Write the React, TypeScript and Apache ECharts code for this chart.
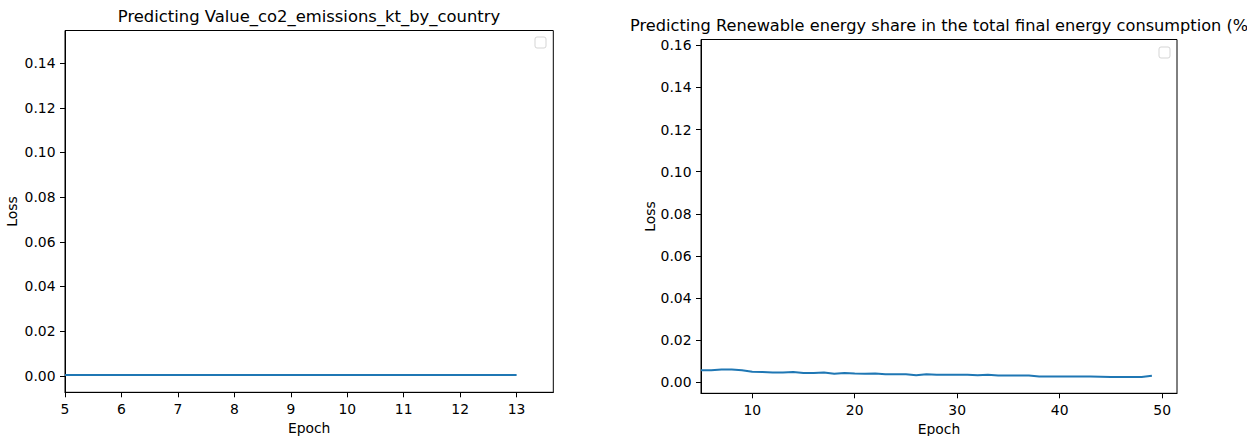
import React, { useEffect, useRef } from "react";
import * as echarts from "echarts";

const leftTitle = "Predicting Value_co2_emissions_kt_by_country";
const rightTitle = "Predicting Renewable energy share in the total final energy consumption (%)";

const leftEpochs = [5, 6, 7, 8, 9, 10, 11, 12, 13];
const leftLoss = [0.0003, 0.0003, 0.0003, 0.0003, 0.0003, 0.0003, 0.0003, 0.0003, 0.0003];

const rightEpochs = [
  5, 6, 7, 8, 9, 10, 11, 12, 13, 14, 15, 16, 17, 18, 19, 20, 21, 22, 23, 24, 25, 26, 27,
  28, 29, 30, 31, 32, 33, 34, 35, 36, 37, 38, 39, 40, 41, 42, 43, 44, 45, 46, 47, 48, 49,
];
const rightLoss = [
  0.0057, 0.0056, 0.006, 0.006, 0.0056, 0.0049, 0.0048, 0.0046, 0.0046, 0.0048, 0.0044,
  0.0044, 0.0046, 0.004, 0.0043, 0.0041, 0.004, 0.0041, 0.0038, 0.0038, 0.0038, 0.0033,
  0.0038, 0.0035, 0.0035, 0.0035, 0.0035, 0.0033, 0.0035, 0.0032, 0.0032, 0.0032, 0.0032,
  0.0027, 0.0027, 0.0027, 0.0027, 0.0027, 0.0027, 0.0026, 0.0025, 0.0025, 0.0024, 0.0024,
  0.003,
];

const leftXTicks = [5, 6, 7, 8, 9, 10, 11, 12, 13];
const leftYTicks = [0, 0.02, 0.04, 0.06, 0.08, 0.1, 0.12, 0.14];
const rightXTicks = [10, 20, 30, 40, 50];
const rightYTicks = [0, 0.02, 0.04, 0.06, 0.08, 0.1, 0.12, 0.14, 0.16];

const FONT = "DejaVu Sans";
const LINE = "#1f77b4";

export default function App() {
  const ref = useRef<HTMLDivElement>(null);
  useEffect(() => {
    if (!ref.current) return;
    const chart = echarts.init(ref.current, undefined, { renderer: "svg" });
    const axisCommon = {
      type: "value" as const,
      axisLine: { show: true, onZero: false, lineStyle: { color: "#000", width: 1 } },
      axisTick: { show: true, inside: false, length: 5, lineStyle: { color: "#000", width: 1 } },
      splitLine: { show: false },
      nameTextStyle: { fontFamily: FONT, fontSize: 13.9, color: "#000" },
    };
    const labelCommon = { fontFamily: FONT, fontSize: 13.9, color: "#000", margin: 9.5 };
    chart.setOption({
      animation: false,
      backgroundColor: "#fff",
      grid: [
        { left: 65, top: 30.5, width: 488.3, height: 361.8, show: true, borderColor: "#000", borderWidth: 1, outerBoundsMode: "none" },
        { left: 701, top: 39.5, width: 476, height: 353.8, show: true, borderColor: "#000", borderWidth: 1, outerBoundsMode: "none" },
      ],
      xAxis: [
        {
          ...axisCommon,
          gridIndex: 0,
          min: 5,
          max: 13.65,
          name: "Epoch",
          nameLocation: "middle",
          nameGap: 26,
          axisTick: { ...axisCommon.axisTick, customValues: leftXTicks },
          axisLabel: { ...labelCommon, customValues: leftXTicks, formatter: (v: number) => String(v) },
        },
        {
          ...axisCommon,
          gridIndex: 1,
          min: 5,
          max: 51.45,
          name: "Epoch",
          nameLocation: "middle",
          nameGap: 26,
          axisTick: { ...axisCommon.axisTick, customValues: rightXTicks },
          axisLabel: { ...labelCommon, customValues: rightXTicks, formatter: (v: number) => String(v) },
        },
      ],
      yAxis: [
        {
          ...axisCommon,
          gridIndex: 0,
          min: -0.0074,
          max: 0.1546,
          name: "Loss",
          nameLocation: "middle",
          nameGap: 46,
          axisTick: { ...axisCommon.axisTick, customValues: leftYTicks },
          axisLabel: { ...labelCommon, customValues: leftYTicks, formatter: (v: number) => v.toFixed(2) },
        },
        {
          ...axisCommon,
          gridIndex: 1,
          min: -0.0053,
          max: 0.1628,
          name: "Loss",
          nameLocation: "middle",
          nameGap: 44,
          axisTick: { ...axisCommon.axisTick, customValues: rightYTicks },
          axisLabel: { ...labelCommon, customValues: rightYTicks, formatter: (v: number) => v.toFixed(2) },
        },
      ],
      series: [
        {
          type: "line",
          xAxisIndex: 0,
          yAxisIndex: 0,
          data: leftEpochs.map((e, i) => [e, leftLoss[i]]),
          showSymbol: false,
          symbol: "none",
          lineStyle: { color: LINE, width: 2 },
          itemStyle: { color: LINE },
        },
        {
          type: "line",
          xAxisIndex: 1,
          yAxisIndex: 1,
          data: rightEpochs.map((e, i) => [e, rightLoss[i]]),
          showSymbol: false,
          symbol: "none",
          lineStyle: { color: LINE, width: 2 },
          itemStyle: { color: LINE },
        },
      ],
      graphic: [
        {
          type: "text",
          x: 309,
          y: 24.5,
          style: { text: leftTitle, font: `16.4px "${FONT}"`, fill: "#000", textAlign: "center", textVerticalAlign: "bottom" },
        },
        {
          type: "text",
          x: 630,
          y: 33.5,
          style: { text: rightTitle, font: `16.2px "${FONT}"`, fill: "#000", textAlign: "left", textVerticalAlign: "bottom" },
        },
        {
          type: "rect",
          shape: { x: 535, y: 37, width: 11, height: 11, r: 2 },
          style: { fill: "#fff", stroke: "#d5d5d5", lineWidth: 1 },
        },
        {
          type: "rect",
          shape: { x: 1159, y: 47, width: 11, height: 11, r: 2 },
          style: { fill: "#fff", stroke: "#d5d5d5", lineWidth: 1 },
        },
      ],
    });
    return () => chart.dispose();
  }, []);
  return <div ref={ref} style={{ position: "absolute", left: 0, top: 0, width: 1247, height: 436 }} />;
}
